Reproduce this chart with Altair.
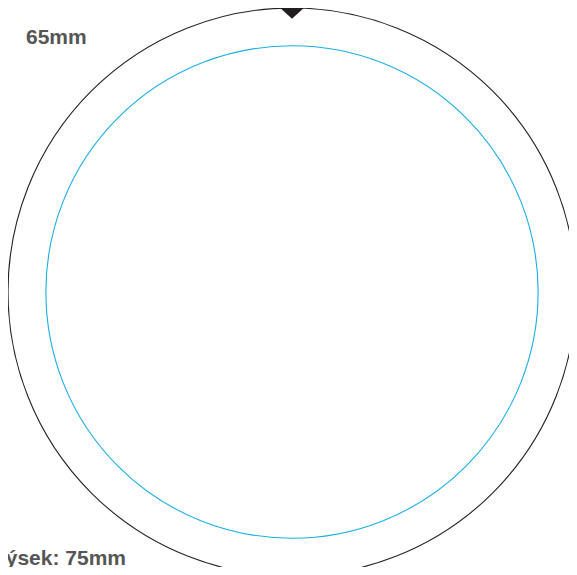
import altair as alt
import pandas as pd

# Diagram values (mm)
diameters = [75, 65]
ring_names = ["výsek", "tisk"]
ring_colors = ["#222222", "#1aaee6"]
label_top = "65mm"
label_bottom = "výsek: 75mm"

rings = pd.DataFrame({"d": diameters, "name": ring_names, "x": [0, 0], "y": [0, 0]})

S = 568          # drawing square (px)
W_VIEW = 561     # visible width so the page fits the window
H_VIEW = 559     # visible height so the page fits the window
R_MAX = max(diameters) / 2

xscale = alt.Scale(domain=[-R_MAX, R_MAX], range=[0, S], nice=False, zero=False)
yscale = alt.Scale(domain=[-R_MAX, R_MAX], range=[S, 0], nice=False, zero=False)
sscale = alt.Scale(type="pow", exponent=2, domain=[0, max(diameters)], range=[0, S * S], zero=True)

circles = alt.Chart(rings).mark_point(shape="circle", filled=False, strokeWidth=1.1, opacity=1).encode(
    x=alt.X("x:Q", scale=xscale, axis=None),
    y=alt.Y("y:Q", scale=yscale, axis=None),
    size=alt.Size("d:Q", scale=sscale, legend=None),
    stroke=alt.Stroke("name:N", scale=alt.Scale(domain=ring_names, range=ring_colors), legend=None),
)

marker = alt.Chart(pd.DataFrame({"x": [0], "y": [36.8]})).mark_point(
    shape="M-1,-0.45L1,-0.45L0,0.45Z", size=560, filled=True, color="#231f20", opacity=1
).encode(
    x=alt.X("x:Q", scale=xscale, axis=None),
    y=alt.Y("y:Q", scale=yscale, axis=None),
)

top_text = alt.Chart(pd.DataFrame({"t": [label_top]})).mark_text(
    align="left", baseline="alphabetic", font="Liberation Sans", fontWeight="bold",
    fontSize=21, color="#555555"
).encode(text="t:N", x=alt.value(18), y=alt.value(36))

bottom_text = alt.Chart(pd.DataFrame({"t": [label_bottom]})).mark_text(
    align="right", baseline="alphabetic", font="Liberation Sans", fontWeight="bold",
    fontSize=21, color="#555555"
).encode(text="t:N", x=alt.value(118), y=alt.value(557))

chart = alt.layer(circles, marker, top_text, bottom_text).properties(
    width=W_VIEW, height=H_VIEW, autosize=alt.AutoSizeParams(type="none"), padding=0
).configure_view(stroke=None)

chart.save("out.html", embed_options={"renderer": "svg", "actions": False})
